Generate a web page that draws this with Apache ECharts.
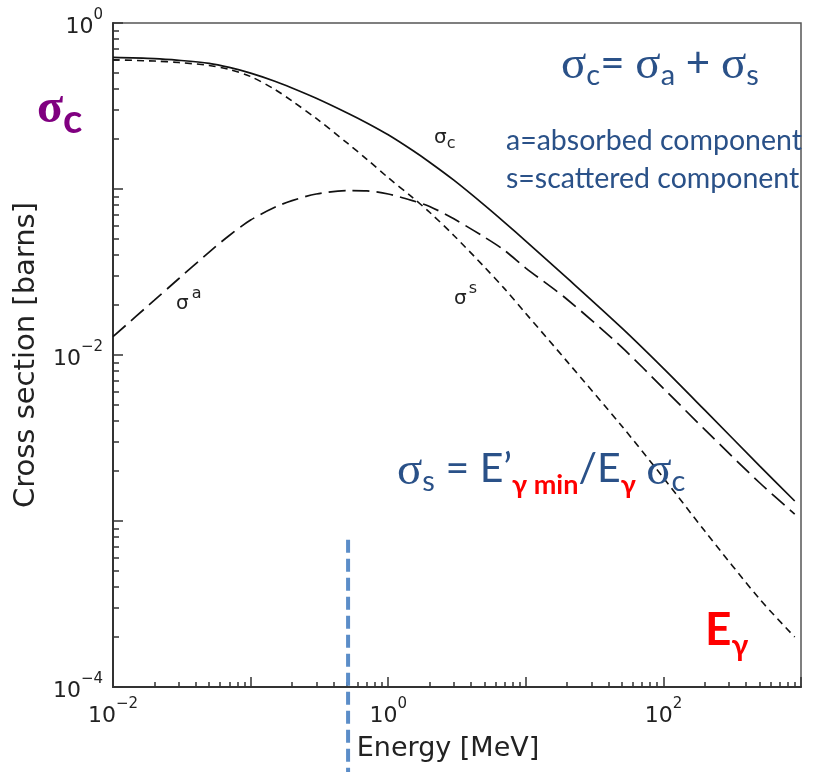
<!DOCTYPE html>
<html>
<head>
<meta charset="utf-8">
<script src="https://cdn.jsdelivr.net/npm/echarts@6/dist/echarts.min.js"></script>
<style>
  html, body { margin: 0; padding: 0; background: #fff; }
  #chart { width: 818px; height: 772px; }
</style>
</head>
<body>
<div id="chart"></div>
<script>
// photon energy in MeV, cross sections in barns
const energy = [0.01, 0.02, 0.03, 0.05, 0.07, 0.1, 0.15, 0.2, 0.3, 0.5, 0.7, 1, 1.5, 2, 3, 5, 7, 10, 20, 50, 100, 200, 500, 900];
const sigmaC = [0.62, 0.61, 0.596, 0.571, 0.540, 0.499, 0.446, 0.406, 0.352, 0.288, 0.250, 0.212, 0.171, 0.145, 0.113,
                0.080, 0.063, 0.0485, 0.029, 0.0145, 0.0083, 0.00465, 0.00215, 0.00132];
const sigmaS = [0.60, 0.59, 0.578, 0.555, 0.525, 0.476, 0.398, 0.339, 0.266, 0.19, 0.151, 0.117, 0.089, 0.0724, 0.0525,
                0.0339, 0.0251, 0.0178, 0.00912, 0.00372, 0.00182, 0.00087, 0.000339, 0.0002];
const sigmaA = [0.0129, 0.0214, 0.0288, 0.0417, 0.0525, 0.065, 0.0776, 0.0851, 0.0933, 0.0977, 0.0973, 0.0933, 0.0851,
                0.0785, 0.0661, 0.0513, 0.0427, 0.0334, 0.0216, 0.0111, 0.0063, 0.00355, 0.0017, 0.0011];

const xDecades = [0.01, 0.1, 1, 10, 100, 1000];
const yDecades = [0.0001, 0.001, 0.01, 0.1, 1];
const xLabelValues = [0.01, 1, 100];
const yLabelValues = [0.0001, 0.01, 1];
const mantissas = [2, 3, 4, 5, 6, 7, 8, 9];

const markerEnergy = 0.511;   // blue dashed marker
const markerTop = 0.00077;

const blue = '#2a5188';
const red = '#ff0000';
const purple = '#800080';
const ink = '#222';
const axisFont = 'DejaVu Sans';
const slideFont = 'Lato';
const greekFont = 'Liberation Serif';

function minorTicks(decades) {
  const out = [];
  decades.slice(0, -1).forEach(d => mantissas.forEach(m => out.push(+(d * m).toPrecision(3))));
  return out;
}

function powerLabel(v) {
  const e = Math.round(Math.log10(v));
  if (e % 2 !== 0) return '';
  return '{b|10}{e|' + (e < 0 ? '\u2212' + (-e) : e) + '}';
}

const labelRich = {
  b: { fontFamily: axisFont, fontSize: 22, color: ink, lineHeight: 30, verticalAlign: 'bottom' },
  e: { fontFamily: axisFont, fontSize: 15, color: ink, lineHeight: 15, verticalAlign: 'top' }
};

const pairs = ys => energy.map((e, i) => [e, ys[i]]);

const tickStyle = { color: '#333', width: 1.5 };

const chart = echarts.init(document.getElementById('chart'));

chart.setOption({
  animation: false,
  grid: { left: 113, right: 17, top: 23, bottom: 85, show: true, borderColor: '#555', borderWidth: 1.5 },
  xAxis: [
    {
      type: 'log', logBase: 10, min: 0.01, max: 1000, position: 'bottom',
      name: 'Energy [MeV]', nameLocation: 'middle', nameGap: 48,
      nameTextStyle: { fontFamily: axisFont, fontSize: 27, color: ink, padding: [0, 18, 0, 0] },
      axisLine: { show: true, onZero: false, lineStyle: { color: '#333', width: 2 } },
      axisTick: { show: true, inside: true, length: 10, customValues: xDecades, lineStyle: tickStyle },
      axisLabel: { customValues: xLabelValues, formatter: powerLabel, rich: labelRich, margin: 10 },
      splitLine: { show: false }
    },
    {
      type: 'log', logBase: 10, min: 0.01, max: 1000, position: 'bottom',
      axisLine: { show: false },
      axisTick: { show: true, inside: true, length: 5, customValues: minorTicks(xDecades), lineStyle: tickStyle },
      axisLabel: { show: false },
      splitLine: { show: false }
    }
  ],
  yAxis: [
    {
      type: 'log', logBase: 10, min: 0.0001, max: 1, position: 'left',
      name: 'Cross section [barns]', nameLocation: 'middle', nameGap: 72,
      nameTextStyle: { fontFamily: axisFont, fontSize: 29, color: ink },
      axisLine: { show: true, onZero: false, lineStyle: { color: '#333', width: 2 } },
      axisTick: { show: true, inside: true, length: 10, customValues: yDecades, lineStyle: tickStyle },
      axisLabel: { customValues: yLabelValues, formatter: powerLabel, rich: labelRich, margin: 10 },
      splitLine: { show: false }
    },
    {
      type: 'log', logBase: 10, min: 0.0001, max: 1, position: 'left',
      axisLine: { show: false },
      axisTick: { show: true, inside: true, length: 6, customValues: minorTicks(yDecades), lineStyle: tickStyle },
      axisLabel: { show: false },
      splitLine: { show: false }
    }
  ],
  series: [
    {
      name: 'sigma_c', type: 'line', data: pairs(sigmaC), symbol: 'none', smooth: 0.3,
      lineStyle: { color: '#111', width: 1.7, type: 'solid' }, z: 3
    },
    {
      name: 'sigma_s', type: 'line', data: pairs(sigmaS), symbol: 'none', smooth: 0.3,
      lineStyle: { color: '#111', width: 1.6, type: [7, 5] }, z: 3
    },
    {
      name: 'sigma_a', type: 'line', data: pairs(sigmaA), symbol: 'none', smooth: 0.3,
      lineStyle: { color: '#111', width: 1.7, type: [17, 7] }, z: 3
    }
  ]
});

const pTop = chart.convertToPixel({ xAxisIndex: 0, yAxisIndex: 0 }, [markerEnergy, markerTop]);

// rich styles for the slide annotations (zrender text uses fill)
const sig = (size, color, weight) => ({ fontFamily: greekFont, fontSize: size, fill: color, fontWeight: weight || 'normal', lineHeight: size, verticalAlign: 'top' });
const txt = (size, color, weight, drop) => ({ fontFamily: slideFont, fontSize: size, fill: color, fontWeight: weight || 'normal', lineHeight: size, verticalAlign: 'top', padding: [drop || 0, 0, 0, 0] });
const mono = (pad) => ({ fontFamily: axisFont, fontSize: 20, fill: ink, lineHeight: 20, verticalAlign: 'top', padding: pad });
const monoSmall = (pad) => ({ fontFamily: axisFont, fontSize: 16, fill: ink, lineHeight: 16, verticalAlign: 'top', padding: pad });

chart.setOption({
  graphic: [
    {
      type: 'line', z: 10,
      shape: { x1: pTop[0], y1: pTop[1], x2: pTop[0], y2: 772 },
      style: { stroke: '#5b8dc8', lineWidth: 4, lineDash: [13, 6] }
    },
    {
      type: 'text', left: 37, top: 86, z: 10,
      style: { text: '{s|σ}{c|c}', rich: { s: sig(48, purple, 'bold'), c: txt(40, purple, 'bold', 14) } }
    },
    {
      type: 'text', left: 561, top: 42, z: 10,
      style: {
        text: '{s|σ}{b|c}{n|= }{s|σ}{b|a}{n| + }{s|σ}{b|s}',
        rich: { s: sig(47, blue), b: txt(29, blue, 'normal', 19), n: txt(42, blue) }
      }
    },
    {
      type: 'text', left: 506, top: 126, z: 10,
      style: { text: 'a=absorbed component', fontFamily: slideFont, fontSize: 28.5, fill: blue }
    },
    {
      type: 'text', left: 506, top: 164, z: 10,
      style: { text: 's=scattered component', fontFamily: slideFont, fontSize: 28.5, fill: blue }
    },
    {
      type: 'text', left: 397, top: 448, z: 10,
      style: {
        text: '{s|σ}{b|s}{n| = E\u2019}{r|γ min}{n|/E}{r|γ}{n| }{s|σ}{b|c}',
        rich: { s: sig(47, blue), b: txt(29, blue, 'normal', 19), n: txt(41, blue), r: txt(27, red, 'bold', 24) }
      }
    },
    {
      type: 'text', left: 705, top: 607, z: 10,
      style: { text: '{e|E}{g|γ}', rich: { e: txt(46, red, 'bold'), g: txt(30, red, 'bold', 24) } }
    },
    {
      type: 'text', left: 434, top: 128, z: 10,
      style: { text: '{s|σ}{b|c}', rich: { s: mono([0, 0, 0, 0]), b: monoSmall([8, 0, 0, 0]) } }
    },
    {
      type: 'text', left: 176, top: 286, z: 10,
      style: { text: '{s|σ}{b|a}', rich: { s: mono([8, 3, 0, 0]), b: monoSmall([0, 0, 0, 0]) } }
    },
    {
      type: 'text', left: 454, top: 281, z: 10,
      style: { text: '{s|σ}{b|s}', rich: { s: mono([8, 2, 0, 0]), b: monoSmall([0, 0, 0, 0]) } }
    }
  ]
});
</script>
</body>
</html>
